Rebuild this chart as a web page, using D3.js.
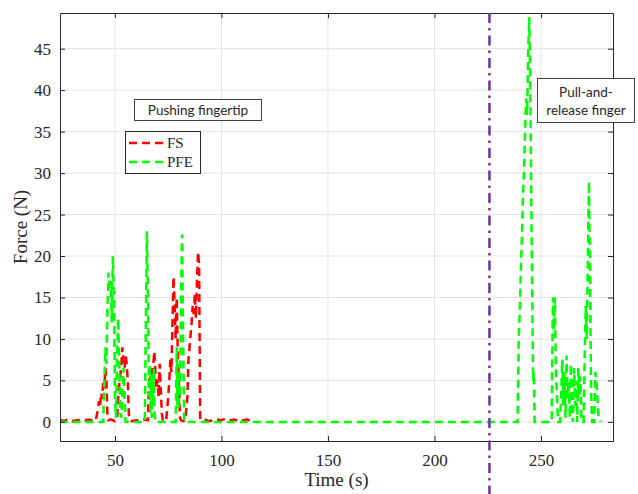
<!DOCTYPE html>
<html>
<head>
<meta charset="utf-8">
<title>Force vs time</title>
<script src="https://cdn.jsdelivr.net/npm/d3@7"></script>
<style>
  body { margin: 0; background: #fff; }
  svg text { fill: #262626; }
</style>
</head>
<body>
<div id="chart"></div>
<script>
var W = 638, H = 494;
var margin = {left: 60, right: 25, top: 13, bottom: 53};

// FS (red) samples: time (s) and force (N)
var fsTime = [24, 26, 28, 30, 32, 34, 36, 38, 40, 41,
  42, 42.5, 43, 43.5, 44, 44.5, 45, 45.5, 46, 46.5, 47, 48, 49, 50,
  51, 51.5, 52, 52.5, 53, 53.5, 54, 54.5, 55, 55.5, 56, 56.5, 57,
  58, 60, 62, 64, 65.5,
  66, 66.5, 67, 67.5, 68, 68.5, 69, 69.5, 70, 70.5, 71, 71.5, 72, 72.5,
  74, 75, 75.5, 76, 76.5, 77, 77.5, 78, 78.5, 79, 79.5, 80, 80.5, 81,
  82, 83, 84, 84.5, 85, 85.5, 86, 86.5, 87, 87.5, 88, 88.5, 89, 89.5, 90, 90.5,
  92, 94, 96, 98, 100, 102, 104, 106, 108, 110, 112, 114, 115];
var fsForce = [0.2, 0.1, 0.3, 0.1, 0.2, 0.3, 0.2, 0.3, 0.1, 0.2,
  1.5, 2.5, 1.8, 3.5, 2.8, 5, 4, 6.5, 5, 0.5, 0.2, 0.3, 0.2, 0.1,
  0.3, 3, 4.5, 5.5, 7, 9, 7.5, 6.5, 8, 7, 5, 1, 0.2,
  0.1, 0.2, 0.1, 0.3, 0.2,
  5, 6.5, 4, 6, 7, 8.5, 6, 4, 5, 3, 7, 4, 1, 0.2,
  0.1, 3, 5, 7.5, 6, 12, 17.5, 14, 10, 15, 8, 5, 0.5, 0.2,
  0.1, 0.2, 3, 7.5, 9, 10.5, 12, 14, 13, 15.5, 12.5, 17, 20.5, 19, 0.5, 0.2,
  0.3, 0.1, 0.2, 0.3, 0.2, 0.4, 0.2, 0.3, 0.1, 0.2, 0.3, 0.1, 0.2];

// PFE (green) samples
var pfeTime = [24, 30, 36, 42, 44.5,
  45, 45.5, 46, 46.5, 47, 47.5, 48, 48.5, 49, 49.5, 50, 50.5, 51, 51.5, 52, 52.5, 53, 54, 54.5, 55,
  58, 63, 64, 64.5, 65, 65.5, 66, 66.3, 66.6, 67, 67.3, 67.6, 68, 68.3, 68.6, 69,
  72, 78.5, 79, 79.3, 79.6, 80, 80.3, 80.6, 81, 81.5, 82, 82.5,
  100, 120, 140, 160, 180, 200, 220, 239,
  239.5, 240, 240.5, 241, 241.5, 242, 242.5, 243, 243.5, 244, 244.5, 245, 245.5, 246, 246.3, 246.6, 247,
  250, 255, 255.3, 255.6, 256, 256.5, 257, 257.5, 258,
  259, 259.5, 260, 260.5, 261, 261.5, 262, 262.5, 263, 263.5, 264, 264.5, 265,
  265.5, 266, 266.5, 267, 267.5, 268, 268.5, 269,
  270, 270.5, 271, 271.5, 272, 272.5, 273, 273.5, 274, 275, 275.5, 276, 276.5, 277, 278];
var pfeForce = [0, 0, 0, 0, 0,
  5, 9, 7, 14, 18, 16, 17, 12, 20, 15, 3, 0.5, 8, 12.5, 7, 1, 0.5, 6.5, 3, 0,
  0, 0, 0, 12, 23, 15, 3, 7, 1, 6, 0.5, 5.5, 2, 6.5, 1, 0,
  0, 0, 9, 2, 5, 1.5, 7, 3, 15, 22.6, 10, 0,
  0, 0, 0, 0, 0, 0, 0, 0,
  10, 13, 18, 22, 27, 30, 35, 39, 37, 45, 48.8, 40, 25, 12, 5, 6, 0,
  0, 0, 8, 15, 11, 15, 6, 3, 0,
  0, 4, 7.5, 2, 6, 0.5, 8, 3, 5, 0.5, 7, 1, 0,
  6.5, 2, 5, 0, 6.5, 3, 5.5, 0,
  0, 8, 14, 10, 20, 29, 18, 4, 0, 0, 6, 5, 3, 0.5, 0];

var xTicks = [50, 100, 150, 200, 250];
var yTicks = [0, 5, 10, 15, 20, 25, 30, 35, 40, 45];
var markerTime = 225.8;

var svg = d3.select('#chart').append('svg')
  .attr('width', W).attr('height', H)
  .style('font-family', '"Liberation Serif", "Times New Roman", serif');

var x = d3.scaleLinear().domain([24.2, 283.8]).range([margin.left, W - margin.right]);
var y = d3.scaleLinear().domain([-2.3, 49.3]).range([H - margin.bottom, margin.top]);

var x0 = margin.left, x1 = W - margin.right, y0 = H - margin.bottom, y1 = margin.top;

// grid
var grid = svg.append('g').attr('stroke', '#e3e3e3').attr('stroke-width', 1);
grid.selectAll('.gx').data(xTicks).enter().append('line')
  .attr('x1', d => x(d)).attr('x2', d => x(d)).attr('y1', y0).attr('y2', y1);
grid.selectAll('.gy').data(yTicks).enter().append('line')
  .attr('x1', x0).attr('x2', x1).attr('y1', d => y(d)).attr('y2', d => y(d));

svg.append('defs').append('clipPath').attr('id', 'clip')
  .append('rect').attr('x', x0).attr('y', y1).attr('width', x1 - x0).attr('height', y0 - y1);

var line = d3.line().x(d => x(d[0])).y(d => y(d[1]));
var plot = svg.append('g').attr('clip-path', 'url(#clip)');

plot.append('path')
  .datum(fsTime.map((t, i) => [t, fsForce[i]]))
  .attr('d', line).attr('fill', 'none')
  .attr('stroke', '#ff0000').attr('stroke-width', 2.5)
  .attr('stroke-dasharray', '8,5');

plot.append('path')
  .datum(pfeTime.map((t, i) => [t, pfeForce[i]]))
  .attr('d', line).attr('fill', 'none')
  .attr('stroke', '#00ff00').attr('stroke-width', 2.5)
  .attr('stroke-dasharray', '8,5');

// axes, MATLAB style: ticks inward, box on
var ax = svg.append('g');
ax.append('g').attr('transform', 'translate(0,' + y0 + ')')
  .call(d3.axisBottom(x).tickValues(xTicks).tickSizeInner(-5).tickSizeOuter(0).tickPadding(13));
ax.append('g').attr('transform', 'translate(0,' + y1 + ')')
  .call(d3.axisTop(x).tickValues(xTicks).tickSizeInner(-5).tickSizeOuter(0).tickFormat(''));
ax.append('g').attr('transform', 'translate(' + x0 + ',0)')
  .call(d3.axisLeft(y).tickValues(yTicks).tickSizeInner(-5).tickSizeOuter(0).tickPadding(9));
ax.append('g').attr('transform', 'translate(' + x1 + ',0)')
  .call(d3.axisRight(y).tickValues(yTicks).tickSizeInner(-5).tickSizeOuter(0).tickFormat(''));
ax.selectAll('.domain, .tick line').attr('stroke', '#262626');
ax.selectAll('.tick text').attr('fill', '#262626')
  .style('font-size', '17px').style('font-family', '"Liberation Serif", serif');

// marker line
svg.append('line')
  .attr('x1', x(markerTime)).attr('x2', x(markerTime))
  .attr('y1', y1).attr('y2', H)
  .attr('stroke', '#7030a0').attr('stroke-width', 2.5)
  .attr('stroke-dasharray', '10,5,2.5,5');

// axis labels
svg.append('text').attr('x', (x0 + x1) / 2).attr('y', 486)
  .attr('text-anchor', 'middle').style('font-size', '19px').text('Time (s)');
svg.append('text').attr('transform', 'translate(27,' + ((y0 + y1) / 2) + ') rotate(-90)')
  .attr('text-anchor', 'middle').style('font-size', '19px').text('Force (N)');

// legend
var lg = svg.append('g');
lg.append('rect').attr('x', 125.5).attr('y', 131.5).attr('width', 75).attr('height', 42)
  .attr('fill', '#fff').attr('stroke', '#262626').attr('stroke-width', 1);
var legendItems = [['FS', '#ff0000'], ['PFE', '#00ff00']];
legendItems.forEach(function(d, i) {
  var ly = 143 + i * 19;
  lg.append('line').attr('x1', 129).attr('x2', 165).attr('y1', ly).attr('y2', ly)
    .attr('stroke', d[1]).attr('stroke-width', 2.5).attr('stroke-dasharray', '8,5');
  lg.append('text').attr('x', 167).attr('y', ly + 5).style('font-size', '15px').text(d[0]);
});

// annotation boxes
var sans = 'Lato, "Open Sans", sans-serif';
svg.append('rect').attr('x', 134.5).attr('y', 99.5).attr('width', 127).attr('height', 21)
  .attr('fill', '#fff').attr('stroke', '#404040');
svg.append('text').attr('x', 198).attr('y', 115).attr('text-anchor', 'middle')
  .style('font-family', sans).style('font-size', '13.5px').text('Pushing fingertip');

svg.append('rect').attr('x', 537.5).attr('y', 78.5).attr('width', 97).attr('height', 44)
  .attr('fill', '#fff').attr('stroke', '#404040');
svg.append('text').attr('x', 586).attr('y', 97).attr('text-anchor', 'middle')
  .style('font-family', sans).style('font-size', '13.5px').text('Pull-and-');
svg.append('text').attr('x', 586).attr('y', 115).attr('text-anchor', 'middle')
  .style('font-family', sans).style('font-size', '13.5px').text('release finger');
</script>
</body>
</html>
